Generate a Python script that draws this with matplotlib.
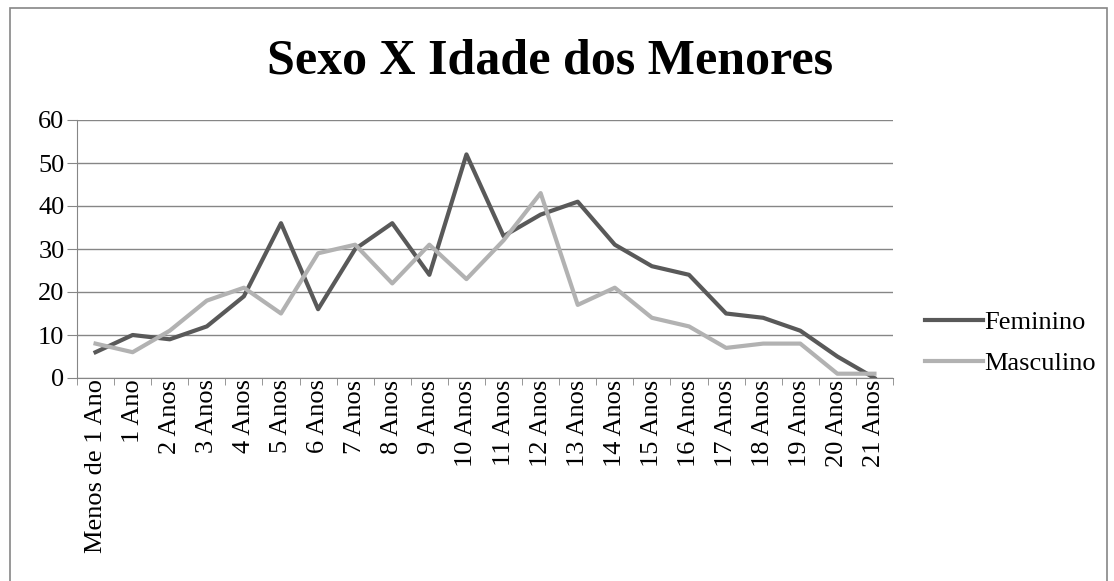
import numpy as np
import matplotlib.pyplot as plt
from matplotlib.patches import Rectangle

categorias = ['Menos de 1 Ano', '1 Ano'] + [f'{i} Anos' for i in range(2, 22)]
feminino = [6, 10, 9, 12, 19, 36, 16, 30, 36, 24, 52, 33, 38, 41, 31, 26, 24, 15, 14, 11, 5, 0]
masculino = [8, 6, 11, 18, 21, 15, 29, 31, 22, 31, 23, 32, 43, 17, 21, 14, 12, 7, 8, 8, 1, 1]
y_ticks = [0, 10, 20, 30, 40, 50, 60]

plt.rcParams['font.family'] = ['Liberation Serif', 'DejaVu Serif']

fig = plt.figure(figsize=(11.14, 5.81), dpi=100)
fig.patches.append(Rectangle((10 / 1114, -0.1), 1097 / 1114, 1.1 - 8 / 581,
                             transform=fig.transFigure, fill=False,
                             edgecolor='#868686', linewidth=1.2))
ax = fig.add_axes([77 / 1114, 1 - 378 / 581, 816 / 1114, 258 / 581])

x = np.arange(len(categorias))
ax.plot(x, feminino, color='#595959', linewidth=3, label='Feminino', solid_joinstyle='round')
ax.plot(x, masculino, color='#b2b2b2', linewidth=3, label='Masculino', solid_joinstyle='round')

ax.set_xlim(-0.5, len(categorias) - 0.5)
ax.set_ylim(0, 60)
ax.set_yticks(y_ticks)
ax.yaxis.grid(True, color='#868686', linewidth=1)
ax.set_axisbelow(True)
ax.tick_params(axis='y', labelsize=19, length=7, color='#868686', pad=2)

ax.set_xticks(x)
ax.set_xticklabels(categorias, rotation=90, fontsize=19)
ax.tick_params(axis='x', length=0, pad=1)
ax.set_xticks(np.arange(-0.5, len(categorias)), minor=True)
ax.tick_params(axis='x', which='minor', length=5, color='#868686')

for s in ['top', 'right']:
    ax.spines[s].set_visible(False)
for s in ['left', 'bottom']:
    ax.spines[s].set_color('#868686')

fig.text(550 / 1114, 1 - 62 / 581, 'Sexo X Idade dos Menores', ha='center', va='center',
         fontsize=36, fontweight='bold')

ax.legend(loc='center left', bbox_to_anchor=(1.039, 0.136), bbox_transform=ax.transAxes,
          frameon=False, fontsize=19, borderpad=0, borderaxespad=0,
          handlelength=2.2, handletextpad=0.05, labelspacing=0.65)

fig.savefig('out.png', dpi=100)
